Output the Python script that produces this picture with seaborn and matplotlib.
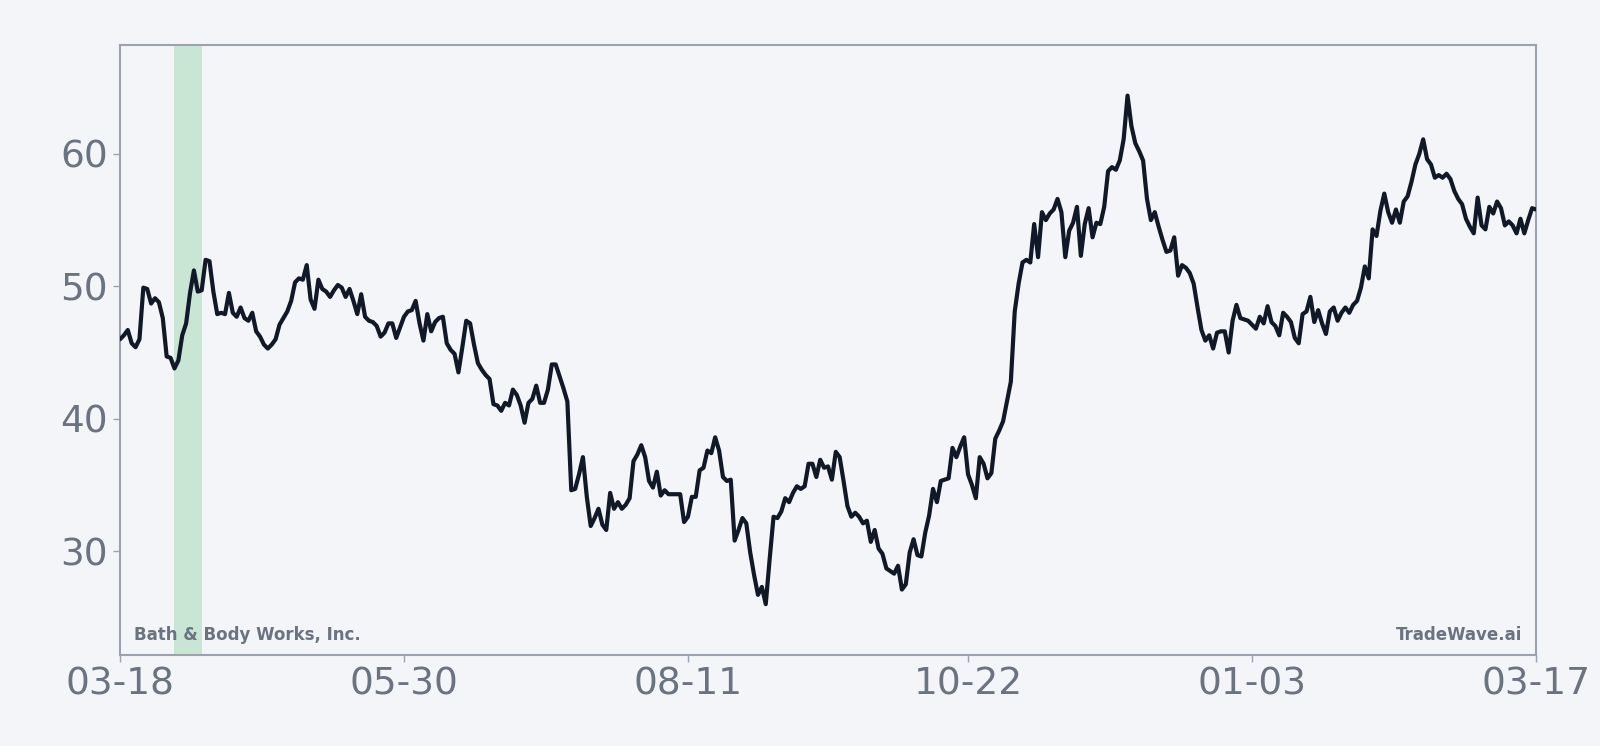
# Bath & Body Works price chart, one year of daily closes
import pandas as pd
import matplotlib
matplotlib.use("Agg")
import matplotlib.pyplot as plt
import matplotlib.dates as mdates
import seaborn as sns

start_date = "2024-03-18"

# daily closes (03-18 .. 03-17)
prices_spring = [
    46.0, 46.3, 46.7, 45.7, 45.4, 46.0, 49.9, 49.8, 48.7, 49.1, 48.8, 47.6, 44.7, 44.6,
    43.8, 44.4, 46.3, 47.2, 49.5, 51.2, 49.6, 49.7, 52.0, 51.9, 49.6, 47.9, 48.0, 47.9,
    49.5, 48.0, 47.7, 48.4, 47.6, 47.4, 48.0, 46.6, 46.2, 45.6, 45.3, 45.6, 46.0, 47.1,
    47.6, 48.1, 48.9, 50.3, 50.6, 50.5, 51.6, 49.0, 48.3, 50.5, 49.8, 49.6, 49.2, 49.7,
    50.1, 49.9, 49.2, 49.8, 48.9, 47.9, 49.4, 47.7, 47.4, 47.3, 47.0, 46.2, 46.5, 47.2,
    47.2, 46.1, 46.9, 47.7, 48.1,
]
prices_summer = [
    48.2, 48.9, 47.2, 45.9, 47.9, 46.6, 47.3, 47.6, 47.7, 45.7, 45.2, 44.9, 43.5, 45.4,
    47.4, 47.2, 45.6, 44.2, 43.7, 43.3, 43.0, 41.1, 41.0, 40.6, 41.2, 41.0, 42.2, 41.8,
    41.0, 39.7, 41.2, 41.5, 42.5, 41.2, 41.2, 42.2, 44.1, 44.1, 43.2, 42.3, 41.3, 34.6,
    34.7, 35.8, 37.1, 34.1, 31.9, 32.5, 33.2, 32.0, 31.6, 34.4, 33.2, 33.7, 33.2, 33.5,
    34.0, 36.8, 37.3, 38.0, 37.1, 35.3, 34.8, 36.0, 34.2, 34.6, 34.3, 34.3, 34.3, 34.3,
    32.2, 32.6, 34.1, 34.1, 36.1,
]
prices_autumn = [
    36.3, 37.6, 37.4, 38.6, 37.6, 35.6, 35.3, 35.4, 30.8, 31.6, 32.5, 32.1, 29.9, 28.2,
    26.7, 27.3, 26.0, 29.4, 32.6, 32.5, 33.0, 34.0, 33.7, 34.4, 34.9, 34.7, 34.9, 36.6,
    36.6, 35.6, 36.9, 36.3, 36.4, 35.4, 37.5, 37.1, 35.3, 33.4, 32.6, 32.9, 32.6, 32.1,
    32.3, 30.7, 31.6, 30.2, 29.8, 28.7, 28.5, 28.3, 28.9, 27.1, 27.5, 29.9, 30.9, 29.7,
    29.6, 31.4, 32.7, 34.7, 33.7, 35.3, 35.4, 35.5, 37.8, 37.1, 37.9, 38.6, 35.8, 35.0,
    34.0, 37.1, 36.6, 35.5, 35.9,
]
prices_winter = [
    38.5, 39.1, 39.8, 41.3, 42.8, 48.1, 50.2, 51.8, 52.0, 51.8, 54.7, 52.2, 55.6,
    55.0, 55.5, 55.8, 56.6, 55.6, 52.2, 54.2, 54.8, 56.0, 52.3, 54.7, 55.9, 53.7, 54.8,
    54.7, 56.0, 58.7, 59.0, 58.8, 59.5, 61.1, 64.4, 62.1, 60.8, 60.2, 59.5, 56.6, 55.0,
    55.6, 54.5, 53.5, 52.6, 52.7, 53.7, 50.8, 51.6, 51.4, 51.0, 50.2, 48.4, 46.7, 45.9,
    46.3, 45.3, 46.5, 46.6, 46.6, 45.0, 47.4, 48.6, 47.6, 47.5, 47.4, 47.1, 46.8, 47.7,
    47.2, 48.5,
]
prices_new_year = [
    47.3, 47.0, 46.3, 48.0, 47.7, 47.3, 46.1, 45.7, 47.9, 48.1, 49.2, 47.3, 48.2, 47.2,
    46.4, 48.1, 48.4, 47.4, 48.0, 48.4, 48.0, 48.6, 48.9, 49.9, 51.5, 50.6, 54.3, 53.8,
    55.7, 57.0, 55.6, 54.8, 55.8, 54.8, 56.4, 56.8, 57.9, 59.2, 60.0, 61.1, 59.6, 59.2,
    58.2, 58.4, 58.2, 58.5, 58.1, 57.2, 56.6, 56.2, 55.1, 54.5, 54.0, 56.7, 54.6, 54.3,
    56.0, 55.5, 56.4, 55.9, 54.6, 54.9, 54.6, 54.0, 55.1, 54.0, 55.0, 55.9, 55.8,
]

prices = prices_spring + prices_summer + prices_autumn + prices_winter + prices_new_year
dates = pd.date_range(start_date, periods=len(prices), freq="D")
df = pd.DataFrame({"date": dates, "close": prices})

highlight = ("2024-04-01", "2024-04-08")
tick_dates = ["2024-03-18", "2024-05-30", "2024-08-11", "2024-10-22", "2025-01-03", "2025-03-17"]
y_ticks = [30, 40, 50, 60]

bg = "#f3f5f8"
gray = "#6b7280"
spine = "#9ca3af"

sns.set_style("white")
plt.rcParams["font.family"] = ["DejaVu Sans"]

fig = plt.figure(figsize=(16, 7.46), dpi=100, facecolor=bg)
ax = fig.add_axes([0.075, 0.122, 0.885, 0.818])
ax.set_facecolor(bg)

ax.axvspan(pd.Timestamp(highlight[0]), pd.Timestamp(highlight[1]), color="#c9e6d5", lw=0, zorder=1)
sns.lineplot(data=df, x="date", y="close", color="#111827", linewidth=3.0, ax=ax, zorder=3)

lo, hi = min(prices), max(prices)
pad = (hi - lo) * 0.1
ax.set_ylim(lo - pad, hi + pad)
ax.set_xlim(dates[0], dates[-1])

ax.set_xticks([pd.Timestamp(d) for d in tick_dates])
ax.xaxis.set_major_formatter(mdates.DateFormatter("%m-%d"))
ax.set_yticks(y_ticks)
ax.tick_params(axis="both", colors=spine, labelcolor=gray, labelsize=27,
               length=5, width=1, direction="out", bottom=True, left=True)
ax.set_xlabel("")
ax.set_ylabel("")

for s in ax.spines.values():
    s.set_visible(True)
    s.set_color(spine)
    s.set_linewidth(1.5)

ax.text(0.01, 0.018, "Bath & Body Works, Inc.", transform=ax.transAxes,
        fontsize=12, fontweight="bold", color=gray, ha="left", va="bottom")
ax.text(0.99, 0.018, "TradeWave.ai", transform=ax.transAxes,
        fontsize=12, fontweight="bold", color=gray, ha="right", va="bottom")

fig.savefig("out.png", dpi=100, facecolor=bg)
